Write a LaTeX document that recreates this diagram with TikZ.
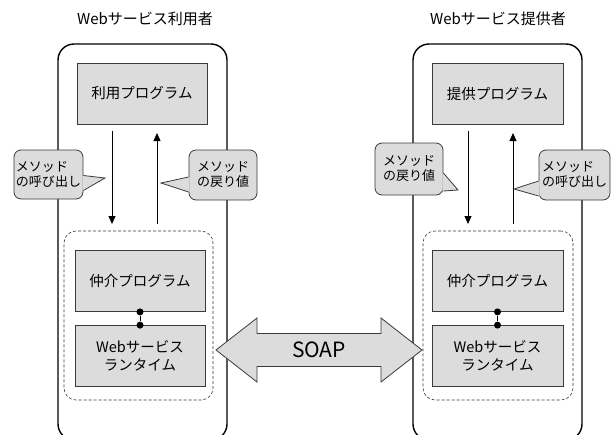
\documentclass[tikz,border=0pt]{standalone}
\usepackage{fontspec}
\setmainfont{Noto Sans CJK JP}
\usetikzlibrary{arrows.meta,calc}
\definecolor{boxfill}{HTML}{DCDCDC}
\definecolor{boxline}{HTML}{3A3A3A}
\begin{document}
\begin{tikzpicture}[x=1pt,y=-1pt,
  outerbox/.style={draw=black, line width=1.4pt, rounded corners=16pt, inner sep=0, minimum width=169pt, minimum height=396pt},
  prog/.style={draw=boxline, fill=boxfill, line width=0.8pt, minimum width=130pt, minimum height=61pt, inner sep=0, align=center, font=\fontsize{14.5}{18}\selectfont},
  grp/.style={draw=boxline, dash pattern=on 3pt off 2pt, line width=0.6pt, rounded corners=12pt, inner sep=0},
  bubble/.style={draw=boxline, fill=boxfill, line width=0.8pt, rounded corners=7pt, align=left, inner sep=0, font=\fontsize{13}{15}\selectfont},
  ttl/.style={font=\fontsize{15}{18}\selectfont, inner sep=0},
  arr/.style={line width=0.8pt, -{Triangle[length=8pt,width=7pt]}},
  jdot/.style={circle, fill=black, inner sep=0, minimum size=7pt}
]
\useasboundingbox (0,0) rectangle (612,434);
\begin{scope}
\clip (0,0) rectangle (612,434);
\node[outerbox] (u1) at (142.5,242) {};
\node[outerbox] (u2) at (497.5,242) {};
\end{scope}
% titles
\node[ttl] (t1) at (145,19) {Webサービス利用者};
\node[ttl] (t2) at (498,19) {Webサービス提供者};
% top programs
\node[prog] (p1) at (142,93.5) {利用プログラム};
\node[prog, minimum width=131pt] (p2) at (497.5,93.5) {提供プログラム};
% dashed groups
\node[grp, minimum width=149pt, minimum height=169pt] (g1) at (138.5,315.5) {};
\node[grp, minimum width=150pt, minimum height=169pt] (g2) at (498,315.5) {};
% middle programs
\node[prog] (m1) at (140,281) {仲介プログラム};
\node[prog] (r1) at (140,356) {Webサービス\\ランタイム};
\node[prog, minimum width=131pt] (m2) at (497.5,281) {仲介プログラム};
\node[prog, minimum width=131pt] (r2) at (497.5,356) {Webサービス\\ランタイム};
% joints
\node[jdot] (j1a) at (m1.south) {};
\node[jdot] (j1b) at (r1.north) {};
\draw[line width=1pt] (j1a) -- (j1b);
\node[jdot] (j2a) at (m2.south) {};
\node[jdot] (j2b) at (r2.north) {};
\draw[line width=1pt] (j2a) -- (j2b);
% arrows left
\coordinate (a1s) at (112,131); \coordinate (a1e) at (112,224);
\coordinate (a2s) at (157,224); \coordinate (a2e) at (157,133);
\draw[arr] (a1s) -- (a1e);
\draw[arr] (a2s) -- (a2e);
% arrows right
\coordinate (a3s) at (468,131); \coordinate (a3e) at (468,224);
\coordinate (a4s) at (513,224); \coordinate (a4e) at (513,133);
\draw[arr] (a3s) -- (a3e);
\draw[arr] (a4s) -- (a4e);
% callouts
\node[bubble, minimum width=69pt, minimum height=49pt] (c1) at (48.5,174.5) {メソッド\\の呼び出し};
\node[bubble, minimum width=68pt, minimum height=50pt] (c2) at (223,175) {メソッド\\の戻り値};
\node[bubble, minimum width=68pt, minimum height=52pt] (c3) at (409,169) {メソッド\\の戻り値};
\node[bubble, minimum width=71pt, minimum height=50pt] (c4) at (574.5,175) {メソッド\\の呼び出し};
% pointers
\coordinate (k1) at (105,178);
\fill[boxfill] ($(c1.east)+(-1,1)$) -- (k1) -- ($(c1.east)+(-1,16)$) -- cycle;
\draw[boxline, line width=0.8pt] ($(c1.east)+(0,1)$) -- (k1) -- ($(c1.east)+(0,16)$);
\coordinate (k2) at (161,183);
\fill[boxfill] ($(c2.west)+(1,2)$) -- (k2) -- ($(c2.west)+(1,17)$) -- cycle;
\draw[boxline, line width=0.8pt] ($(c2.west)+(0,2)$) -- (k2) -- ($(c2.west)+(0,17)$);
\coordinate (k3) at (458,190);
\fill[boxfill] ($(c3.east)+(-1,4)$) -- (k3) -- ($(c3.east)+(-1,22)$) -- cycle;
\draw[boxline, line width=0.8pt] ($(c3.east)+(0,4)$) -- (k3) -- ($(c3.east)+(0,22)$);
\coordinate (k4) at (514,189);
\fill[boxfill] ($(c4.west)+(1,6)$) -- (k4) -- ($(c4.west)+(1,21)$) -- cycle;
\draw[boxline, line width=0.8pt] ($(c4.west)+(0,6)$) -- (k4) -- ($(c4.west)+(0,21)$);
% SOAP double arrow
\draw[boxline, fill=boxfill, line width=0.8pt] (216,350) -- (257,318) -- (257,333.5) -- (381,333.5) -- (381,318) -- (422,350) -- (381,382) -- (381,366.5) -- (257,366.5) -- (257,382) -- cycle;
\node[inner sep=0, font=\fontsize{21}{25}\selectfont] (soap) at (319,350) {SOAP};
\end{tikzpicture}
\end{document}
